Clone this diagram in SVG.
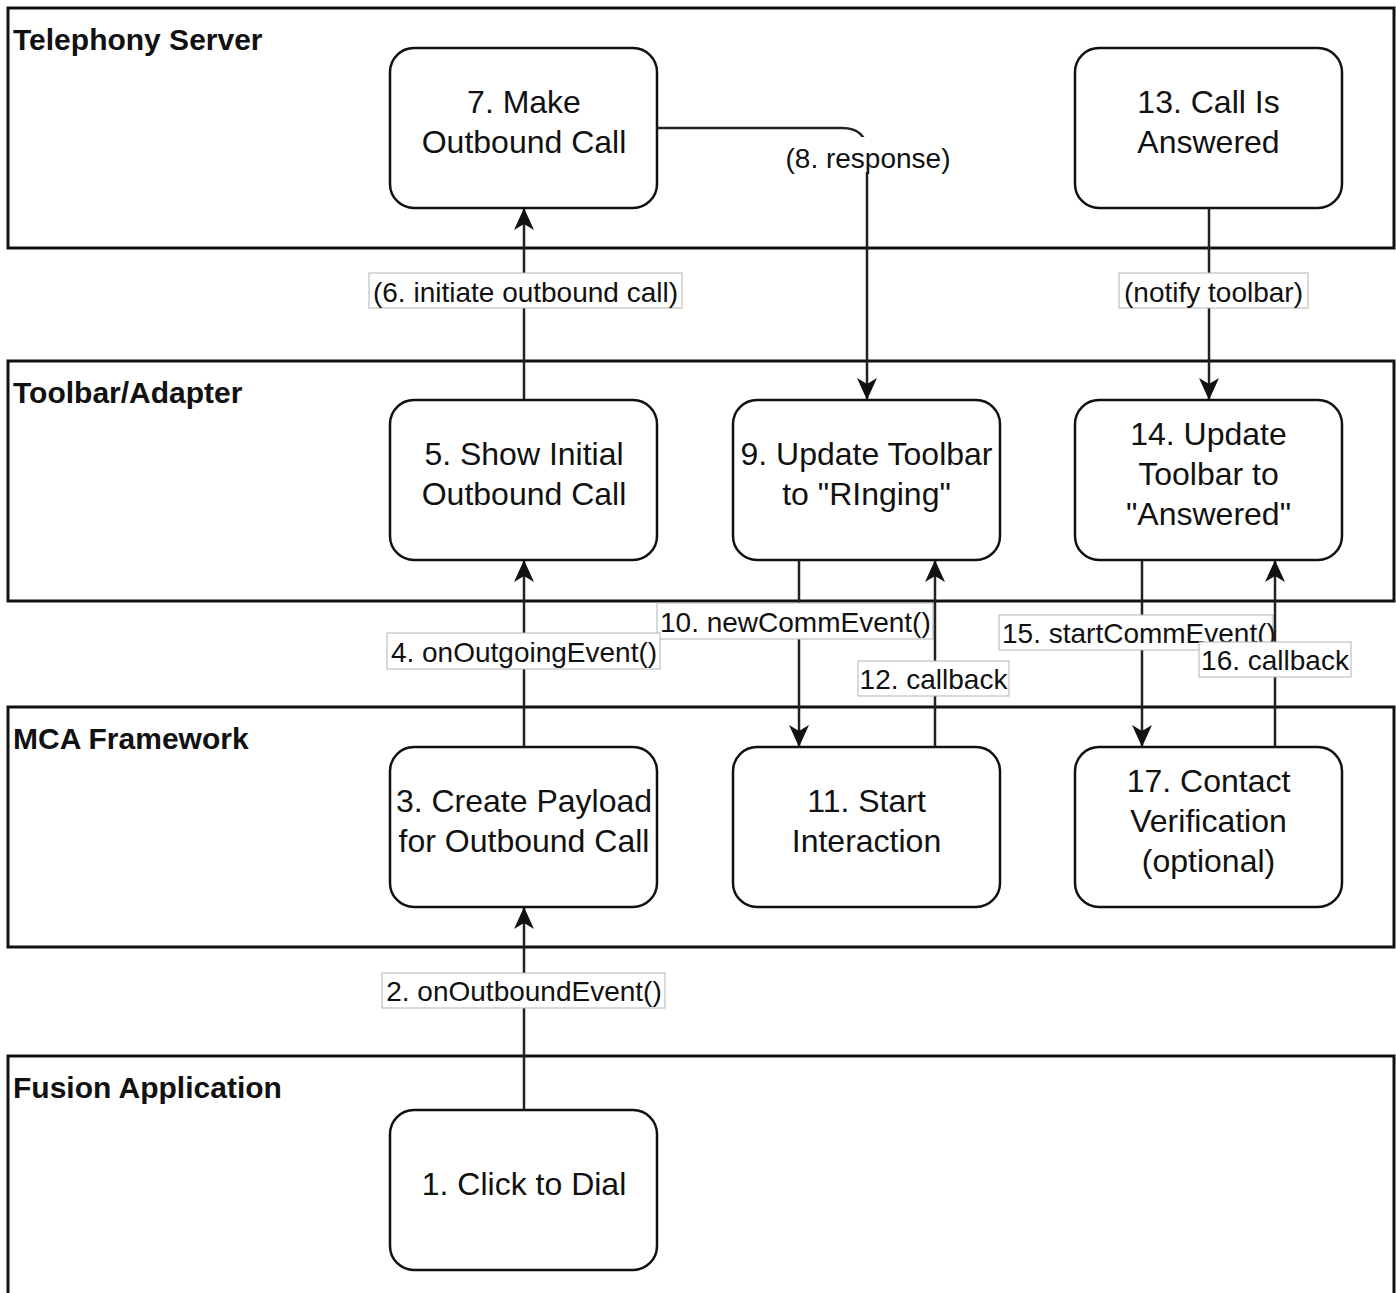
<svg xmlns="http://www.w3.org/2000/svg" width="1396" height="1293" viewBox="0 0 1396 1293">
  <style>
    .lane { fill: #ffffff; stroke: #111111; stroke-width: 3; }
    .lane-title { font-family: "Liberation Sans", Arial, sans-serif; font-size: 30px; font-weight: bold; fill: #111111; }
    .node rect { fill: #ffffff; stroke: #111111; stroke-width: 2.5; }
    .node text { font-family: "Liberation Sans", Arial, sans-serif; font-size: 32px; fill: #111111; text-anchor: middle; }
    .edge { fill: none; stroke: #222222; stroke-width: 2.5; marker-end: url(#arrow); }
    .lbl-box { fill: #ffffff; stroke: #b4b4b4; stroke-width: 1; }
    .lbl-bg { fill: #ffffff; stroke: none; }
    .lbl { font-family: "Liberation Sans", Arial, sans-serif; font-size: 28px; fill: #111111; }
    .mid { text-anchor: middle; }
  </style>
  <defs>
    <marker id="arrow" markerUnits="userSpaceOnUse" viewBox="0 0 24 24" markerWidth="24" markerHeight="24" refX="22" refY="12" orient="auto">
      <path d="M0,2 L22,12 L0,22 L6,12 Z" fill="#111111"/>
    </marker>
  </defs>

  <!-- swimlanes -->
  <g id="lanes">
    <g id="lane-telephony">
      <rect class="lane" x="8" y="8" width="1386" height="240"/>
      <text class="lane-title" x="13" y="50">Telephony Server</text>
    </g>
    <g id="lane-toolbar">
      <rect class="lane" x="8" y="361" width="1386" height="240"/>
      <text class="lane-title" x="13" y="403">Toolbar/Adapter</text>
    </g>
    <g id="lane-mca">
      <rect class="lane" x="8" y="707" width="1386" height="240"/>
      <text class="lane-title" x="13" y="749">MCA Framework</text>
    </g>
    <g id="lane-fusion">
      <rect class="lane" x="8" y="1056" width="1386" height="260"/>
      <text class="lane-title" x="13" y="1098">Fusion Application</text>
    </g>
  </g>

  <!-- connectors and their labels -->
  <g id="connectors">
    <path id="e-2" class="edge" d="M524,1110 V907"/>
    <path id="e-4" class="edge" d="M524,747 V560"/>
    <path id="e-6" class="edge" d="M524,400 V208"/>
    <path id="e-8" class="edge" d="M658,128 H842 Q867,128 867,153 V400"/>
    <path id="e-10" class="edge" d="M799,560 V747"/>
    <path id="e-notify" class="edge" d="M1209,208 V400"/>
    <path id="e-15" class="edge" d="M1142,560 V747"/>

    <rect class="lbl-box" x="382" y="973" width="283" height="35"/>
    <text class="lbl mid" x="524" y="1001">2. onOutboundEvent()</text>

    <rect class="lbl-box" x="369" y="273" width="313" height="35"/>
    <text class="lbl mid" x="525.5" y="301.5">(6. initiate outbound call)</text>

    <rect class="lbl-bg" x="780" y="137" width="178" height="35"/>
    <text class="lbl mid" x="868" y="168">(8. response)</text>

    <rect class="lbl-box" x="1119" y="273" width="189" height="35"/>
    <text class="lbl mid" x="1213.5" y="301.5">(notify toolbar)</text>

    <rect class="lbl-box" x="657" y="603" width="276" height="36"/>
    <text class="lbl" x="660" y="631.5">10. newCommEvent()</text>

    <rect class="lbl-box" x="387" y="633" width="273" height="36"/>
    <text class="lbl mid" x="524" y="661.5">4. onOutgoingEvent()</text>

    <path id="e-12" class="edge" d="M935,747 V560"/>
    <rect class="lbl-box" x="858" y="661" width="151" height="35"/>
    <text class="lbl mid" x="933.5" y="688.5">12. callback</text>

    <rect class="lbl-box" x="999" y="615" width="274" height="35"/>
    <text class="lbl" x="1002" y="643">15. startCommEvent()</text>

    <path id="e-16" class="edge" d="M1275,747 V560"/>
    <rect class="lbl-box" x="1199" y="642" width="152" height="35"/>
    <text class="lbl mid" x="1275" y="670">16. callback</text>
  </g>

  <!-- process steps -->
  <g id="n7" class="node">
    <rect x="390" y="48" width="267" height="160" rx="24"/>
    <text x="524" y="113">7. Make</text>
    <text x="524" y="153">Outbound Call</text>
  </g>
  <g id="n13" class="node">
    <rect x="1075" y="48" width="267" height="160" rx="24"/>
    <text x="1208.5" y="113">13. Call Is</text>
    <text x="1208.5" y="153">Answered</text>
  </g>
  <g id="n5" class="node">
    <rect x="390" y="400" width="267" height="160" rx="24"/>
    <text x="524" y="465">5. Show Initial</text>
    <text x="524" y="505">Outbound Call</text>
  </g>
  <g id="n9" class="node">
    <rect x="733" y="400" width="267" height="160" rx="24"/>
    <text x="866.5" y="465">9. Update Toolbar</text>
    <text x="866.5" y="505">to "RInging"</text>
  </g>
  <g id="n14" class="node">
    <rect x="1075" y="400" width="267" height="160" rx="24"/>
    <text x="1208.5" y="445">14. Update</text>
    <text x="1208.5" y="485">Toolbar to</text>
    <text x="1208.5" y="525">"Answered"</text>
  </g>
  <g id="n3" class="node">
    <rect x="390" y="747" width="267" height="160" rx="24"/>
    <text x="524" y="812">3. Create Payload</text>
    <text x="524" y="852">for Outbound Call</text>
  </g>
  <g id="n11" class="node">
    <rect x="733" y="747" width="267" height="160" rx="24"/>
    <text x="866.5" y="812">11. Start</text>
    <text x="866.5" y="852">Interaction</text>
  </g>
  <g id="n17" class="node">
    <rect x="1075" y="747" width="267" height="160" rx="24"/>
    <text x="1208.5" y="792">17. Contact</text>
    <text x="1208.5" y="832">Verification</text>
    <text x="1208.5" y="872">(optional)</text>
  </g>
  <g id="n1" class="node">
    <rect x="390" y="1110" width="267" height="160" rx="24"/>
    <text x="524" y="1195">1. Click to Dial</text>
  </g>
</svg>
